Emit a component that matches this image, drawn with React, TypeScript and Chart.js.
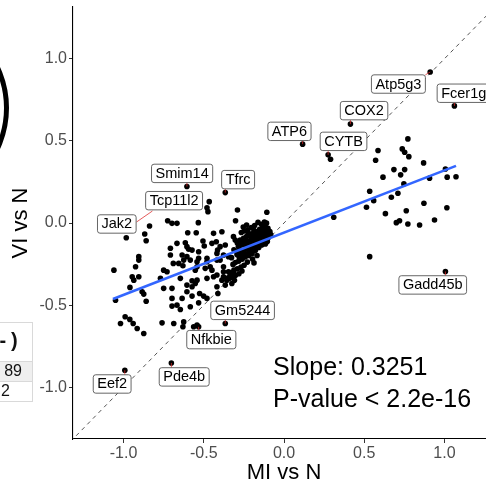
import React, { useEffect, useRef } from "react";
import { Chart, registerables } from "chart.js";
Chart.register(...registerables);

const CANVAS_W = 520;
const CANVAS_H = 487;
const FONT = '"Liberation Sans", Arial, Helvetica, sans-serif';

const xTicks = [-1.0, -0.5, 0.0, 0.5, 1.0];
const yTicks = [-1.0, -0.5, 0.0, 0.5, 1.0];
const axisMin = -1.315;
const axisMax = 1.315;
const xTitle = "MI vs N";
const yTitle = "VI vs N";

// upper-right cluster
const rightX = [0.772, 0.586, 0.737, 0.752, 0.778, 0.571, 0.87, 0.685, 0.752, 0.727, 0.617, 0.907, 1.017, 1.072, 1.006, 0.747, 0.534, 0.71, 0.669, 0.559, 0.514, 0.872, 1.015, 0.632, 0.762, 0.72, 0.7, 0.772, 0.845, 0.938, 0.31, 0.534, 0.29, -0.542, -0.563];
const rightY = [0.512, 0.441, 0.451, 0.431, 0.404, 0.382, 0.366, 0.325, 0.325, 0.293, 0.279, 0.273, 0.279, 0.282, 0.329, 0.238, 0.193, 0.181, 0.157, 0.136, 0.096, 0.12, 0.093, 0.057, 0.075, 0.014, 0.002, -0.006, -0.012, 0.018, 0.035, -0.205, 0.388, -0.622, -0.632];

// scattered lower-left points
const leftX = [-0.466, -0.48, -0.474, -0.29, -0.107, -0.302, -0.534, -0.725, -0.698, -0.667, -0.838, -0.983, -0.868, -0.859, -0.6, -0.547, -0.439, -0.387, -0.315, -0.304, -0.505, -0.449, -0.422, -0.398, -0.667, -0.615, -0.594, -0.573, -0.708, -0.708, -0.635, -0.656, -0.584, -0.532, -0.905, -0.905, -0.925, -0.946, -0.936, -0.905, -1.06, -0.96, -0.884, -0.874, -0.859, -1.05, -0.77, -0.75, -0.729, -0.646, -0.605, -0.75, -0.698, -0.698, -0.635, -0.573, -0.698, -0.667, -0.584, -0.532, -0.526, -0.501, -0.48, -0.99, -0.961, -1.019, -0.94, -0.874, -0.915, -0.76, -0.687, -0.625, -0.63, -0.497, -0.48, -0.46, -0.449, -0.418, -0.398, -0.377, -0.439, -0.418, -0.377, -0.356, -0.335, -0.418, -0.366, -0.553, -0.346, -0.315, -0.605, -0.69, -0.63, -0.542, -0.542, -0.366, -0.414, -0.605, -0.532, -0.625, -0.48, -0.418, -0.377, -0.346, -0.553, -0.491, -0.377, -0.542, -0.48, -0.387, -0.325, -0.646, -0.412, -0.605, -0.573, -0.573];
const leftY = [0.13, 0.093, 0.069, 0.079, 0.065, 0.014, 0.002, 0.014, -0.002, -0.002, -0.018, -0.09, -0.067, -0.108, -0.059, -0.059, -0.063, -0.053, -0.083, -0.104, -0.11, -0.124, -0.114, -0.144, -0.124, -0.12, -0.16, -0.165, -0.154, -0.195, -0.195, -0.246, -0.226, -0.215, -0.205, -0.226, -0.266, -0.327, -0.348, -0.327, -0.287, -0.392, -0.419, -0.433, -0.476, -0.47, -0.337, -0.287, -0.297, -0.337, -0.378, -0.398, -0.398, -0.459, -0.459, -0.445, -0.506, -0.5, -0.51, -0.486, -0.429, -0.445, -0.459, -0.571, -0.587, -0.612, -0.612, -0.673, -0.642, -0.608, -0.612, -0.602, -0.632, -0.14, -0.236, -0.266, -0.287, -0.185, -0.226, -0.266, -0.327, -0.317, -0.327, -0.348, -0.327, -0.388, -0.378, -0.368, -0.297, -0.307, -0.205, -0.246, -0.26, -0.266, -0.236, -0.134, -0.165, -0.144, -0.175, -0.226, -0.215, -0.226, -0.195, -0.205, -0.287, -0.276, -0.297, -0.348, -0.337, -0.348, -0.368, -0.527, -0.429, -0.419, -0.388, -0.352];

// dense core near the origin
const coreX = [-0.1, -0.118, -0.141, -0.162, -0.183, -0.204, -0.226, -0.247, -0.266, -0.108, -0.131, -0.152, -0.171, -0.193, -0.212, -0.234, -0.252, -0.273, -0.097, -0.121, -0.143, -0.163, -0.184, -0.203, -0.224, -0.243, -0.262, -0.284, -0.128, -0.149, -0.172, -0.191, -0.212, -0.231, -0.253, -0.272, -0.293, -0.157, -0.178, -0.199, -0.221, -0.242, -0.261, -0.282, -0.303, -0.196, -0.228, -0.249, -0.268, -0.291, -0.312, -0.331, -0.262, -0.281, -0.302, -0.321, -0.342, -0.309, -0.122, -0.088, -0.109, -0.133, -0.083, -0.192, -0.221, -0.291, -0.312, -0.327, -0.318, -0.168, -0.187, -0.139, -0.116, -0.254, -0.233, -0.095, -0.112, -0.136, -0.157, -0.178, -0.207, -0.238, -0.259, -0.146, -0.166, -0.188, -0.209, -0.232, -0.276, -0.297, -0.217, -0.238, -0.257, -0.279, -0.183, -0.208, -0.336, -0.352, -0.127, -0.104];
const coreY = [-0.032, -0.018, -0.008, 0.004, -0.015, -0.027, -0.041, -0.049, -0.058, -0.061, -0.047, -0.038, -0.052, -0.063, -0.071, -0.082, -0.093, -0.104, -0.088, -0.079, -0.072, -0.083, -0.094, -0.102, -0.113, -0.121, -0.133, -0.142, -0.108, -0.118, -0.127, -0.139, -0.151, -0.158, -0.171, -0.179, -0.192, -0.149, -0.166, -0.186, -0.198, -0.207, -0.221, -0.232, -0.241, -0.219, -0.238, -0.257, -0.268, -0.279, -0.287, -0.301, -0.292, -0.309, -0.318, -0.331, -0.338, -0.349, 0.006, -0.052, -0.001, -0.029, -0.071, -0.033, -0.062, -0.121, -0.163, -0.211, -0.252, -0.198, -0.243, -0.134, -0.128, -0.024, -0.012, -0.068, -0.041, -0.056, -0.061, -0.073, -0.085, -0.098, -0.112, -0.095, -0.104, -0.118, -0.132, -0.141, -0.162, -0.171, -0.176, -0.187, -0.198, -0.208, -0.142, -0.163, -0.322, -0.335, -0.088, -0.112];

// labelled genes
const labelNames = ["Atp5g3", "Fcer1g", "COX2", "ATP6", "CYTB", "Smim14", "Tfrc", "Tcp11l2", "Jak2", "Gadd45b", "Gm5244", "Nfkbie", "Pde4b", "Eef2"];
const labelPointX = [0.911, 1.062, 0.414, 0.116, 0.275, -0.605, -0.366, NaN, NaN, 1.006, -0.366, -0.532, -0.702, -0.992];
const labelPointY = [0.919, 0.713, 0.602, 0.48, 0.415, 0.222, 0.185, NaN, NaN, -0.295, -0.612, -0.632, -0.852, -0.896];
const labelBoxX = [0.713, 1.12, 0.499, 0.034, 0.371, -0.635, -0.286, -0.685, -1.042, 0.927, -0.258, -0.453, -0.622, -1.071];
const labelBoxY = [0.846, 0.79, 0.684, 0.558, 0.497, 0.302, 0.264, 0.136, -0.006, -0.377, -0.532, -0.71, -0.937, -0.98];
const extraSegX = [-0.919, -0.82];
const extraSegY = [0.006, 0.073];

// fitted regression line
const fitX = [-1.066, 1.072];
const fitY = [-0.463, 0.348];
const identityX = [-1.4, 1.4];
const identityY = [-1.4, 1.4];

const statLines = ["Slope: 0.3251", "P-value < 2.2e-16"];
const statX = -0.068;
const statY = [-0.927, -1.119];

function zip(xs: number[], ys: number[]) {
  return xs.map((x, i) => ({ x, y: ys[i] }));
}

const decorPlugin = {
  id: "decor",
  beforeDraw(chart: any) {
    const ctx = chart.ctx;
    ctx.save();
    ctx.fillStyle = "#fff";
    ctx.fillRect(0, 0, chart.width, chart.height);
    // neighbouring panel fragments
    ctx.beginPath();
    ctx.arc(-88.5, 108, 95, -Math.PI / 2, Math.PI / 2);
    ctx.lineWidth = 5;
    ctx.strokeStyle = "#000";
    ctx.stroke();
    ctx.fillStyle = "#efefef";
    ctx.fillRect(0, 362, 32, 20);
    ctx.strokeStyle = "#d9d9d9";
    ctx.lineWidth = 1;
    ctx.beginPath();
    ctx.moveTo(0, 322.5); ctx.lineTo(32.5, 322.5);
    ctx.moveTo(0, 361.5); ctx.lineTo(32.5, 361.5);
    ctx.moveTo(0, 381.5); ctx.lineTo(32.5, 381.5);
    ctx.moveTo(0, 401.5); ctx.lineTo(32.5, 401.5);
    ctx.moveTo(32.5, 322); ctx.lineTo(32.5, 402);
    ctx.stroke();
    ctx.fillStyle = "#111";
    ctx.textBaseline = "middle";
    ctx.textAlign = "left";
    ctx.font = "bold 20px " + FONT;
    ctx.fillText("-", -0.5, 341);
    ctx.fillText(")", 11, 341);
    ctx.textAlign = "right";
    ctx.font = "16px " + FONT;
    ctx.fillText("89", 22, 372);
    ctx.fillText("2", 10, 392);
    ctx.restore();
  },
  afterDatasetsDraw(chart: any) {
    const ctx = chart.ctx;
    const xs = chart.scales.x;
    const ys = chart.scales.y;
    ctx.save();
    ctx.font = "14.5px " + FONT;
    const h = 18.4;
    const boxes = labelNames.map((name, i) => {
      const w = ctx.measureText(name).width + 8;
      const cx = xs.getPixelForValue(labelBoxX[i]);
      const cy = ys.getPixelForValue(labelBoxY[i]);
      return { name, w, cx, cy };
    });
    ctx.strokeStyle = "rgba(220,40,40,0.85)";
    ctx.lineWidth = 0.9;
    boxes.forEach((b, i) => {
      if (!isFinite(labelPointX[i])) return;
      const px = xs.getPixelForValue(labelPointX[i]);
      const py = ys.getPixelForValue(labelPointY[i]);
      const ex = Math.max(b.cx - b.w / 2, Math.min(px, b.cx + b.w / 2));
      const ey = Math.max(b.cy - h / 2, Math.min(py, b.cy + h / 2));
      if (Math.hypot(ex - px, ey - py) > 2) {
        ctx.beginPath();
        ctx.moveTo(px, py);
        ctx.lineTo(ex, ey);
        ctx.stroke();
      }
    });
    ctx.beginPath();
    ctx.moveTo(xs.getPixelForValue(extraSegX[0]), ys.getPixelForValue(extraSegY[0]));
    ctx.lineTo(xs.getPixelForValue(extraSegX[1]), ys.getPixelForValue(extraSegY[1]));
    ctx.stroke();
    boxes.forEach((b) => {
      const x0 = b.cx - b.w / 2, y0 = b.cy - h / 2, r = 2.5;
      ctx.beginPath();
      ctx.moveTo(x0 + r, y0);
      ctx.lineTo(x0 + b.w - r, y0);
      ctx.arcTo(x0 + b.w, y0, x0 + b.w, y0 + r, r);
      ctx.lineTo(x0 + b.w, y0 + h - r);
      ctx.arcTo(x0 + b.w, y0 + h, x0 + b.w - r, y0 + h, r);
      ctx.lineTo(x0 + r, y0 + h);
      ctx.arcTo(x0, y0 + h, x0, y0 + h - r, r);
      ctx.lineTo(x0, y0 + r);
      ctx.arcTo(x0, y0, x0 + r, y0, r);
      ctx.closePath();
      ctx.fillStyle = "#fff";
      ctx.fill();
      ctx.strokeStyle = "#555";
      ctx.lineWidth = 0.9;
      ctx.stroke();
      ctx.fillStyle = "#000";
      ctx.textAlign = "center";
      ctx.textBaseline = "middle";
      ctx.fillText(b.name, b.cx, b.cy + 0.5);
    });
    ctx.font = "25px " + FONT;
    ctx.fillStyle = "#000";
    ctx.textAlign = "left";
    ctx.textBaseline = "alphabetic";
    statLines.forEach((t, i) => {
      ctx.fillText(t, xs.getPixelForValue(statX), ys.getPixelForValue(statY[i]));
    });
    ctx.restore();
  },
};

export default function App() {
  const ref = useRef<HTMLCanvasElement | null>(null);
  useEffect(() => {
    if (!ref.current) return;
    const tickFont = { family: FONT, size: 16 };
    const titleFont = { family: FONT, size: 22 };
    const pointStyle = {
      type: "scatter" as const,
      pointRadius: 2.8,
      pointBackgroundColor: "#000",
      pointBorderColor: "#000",
      pointBorderWidth: 0,
      order: 1,
    };
    const chart = new Chart(ref.current, {
      type: "scatter",
      data: {
        datasets: [
          {
            data: zip(identityX, identityY),
            showLine: true,
            borderColor: "#555",
            borderWidth: 1,
            borderDash: [4, 4],
            pointRadius: 0,
            order: 3,
          } as any,
          { ...pointStyle, data: zip(leftX, leftY) },
          { ...pointStyle, data: zip(coreX, coreY) },
          { ...pointStyle, data: zip(rightX, rightY) },
          { ...pointStyle, data: zip(labelPointX, labelPointY).filter((p) => isFinite(p.x)) },
          {
            data: zip(fitX, fitY),
            showLine: true,
            borderColor: "#3366FF",
            borderWidth: 2.6,
            pointRadius: 0,
            order: 0,
          } as any,
        ],
      },
      options: {
        animation: false,
        responsive: false,
        maintainAspectRatio: false,
        events: [],
        layout: { padding: { left: 0, top: 7, right: 25, bottom: 0 } },
        plugins: { legend: { display: false }, tooltip: { enabled: false } },
        scales: {
          x: {
            type: "linear",
            min: axisMin,
            max: axisMax,
            afterBuildTicks: (s: any) => {
              s.ticks = xTicks.map((v) => ({ value: v }));
            },
            afterFit: (s: any) => {
              s.height = 48;
              s.paddingLeft = 0;
              s.paddingRight = 0;
            },
            ticks: {
              font: tickFont,
              color: "#4D4D4D",
              padding: 1,
              maxRotation: 0,
              autoSkip: false,
              callback: (v: any) => Number(v).toFixed(1),
            },
            grid: { drawOnChartArea: false, drawTicks: true, tickLength: 4, tickColor: "#333", lineWidth: 1 },
            border: { display: true, color: "#000", width: 1.1 },
            title: { display: true, text: xTitle, font: titleFont, color: "#000", padding: { top: 0, bottom: 1 } },
          },
          y: {
            type: "linear",
            min: axisMin,
            max: axisMax,
            afterBuildTicks: (s: any) => {
              s.ticks = yTicks.map((v) => ({ value: v }));
            },
            afterFit: (s: any) => {
              s.width = 73;
              s.paddingTop = 0;
              s.paddingBottom = 0;
            },
            ticks: {
              font: tickFont,
              color: "#4D4D4D",
              padding: 2,
              autoSkip: false,
              callback: (v: any) => Number(v).toFixed(1),
            },
            grid: { drawOnChartArea: false, drawTicks: true, tickLength: 4, tickColor: "#333", lineWidth: 1 },
            border: { display: true, color: "#000", width: 1.1 },
            title: { display: true, text: yTitle, font: titleFont, color: "#000", padding: { top: 8, bottom: 0 } },
          },
        },
      },
      plugins: [decorPlugin],
    });
    return () => chart.destroy();
  }, []);
  return (
    <div style={{ position: "fixed", left: 0, top: 0, width: 486, height: 487, overflow: "hidden", background: "#fff" }}>
      <canvas ref={ref} width={CANVAS_W} height={CANVAS_H} style={{ display: "block", width: CANVAS_W, height: CANVAS_H }} />
    </div>
  );
}
